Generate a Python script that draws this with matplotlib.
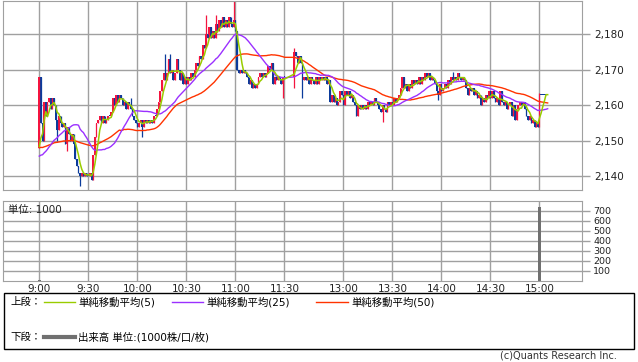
import matplotlib
matplotlib.use('Agg')
import matplotlib.pyplot as plt
from matplotlib.lines import Line2D
from matplotlib.patches import Rectangle
import numpy as np
import pandas as pd

plt.rcParams['font.family'] = ['DejaVu Sans', 'Noto Sans CJK JP']

# closes of the previous session, only so the averages start where the chart shows them
prev_closes = [2152, 2151, 2152, 2150, 2151, 2153, 2152, 2150, 2149, 2151,
               2150, 2152, 2151, 2150, 2149, 2150, 2151, 2150, 2149, 2150,
               2151, 2150, 2149, 2150, 2149,
               2148, 2147, 2148, 2146, 2147, 2145, 2146, 2144, 2145, 2146,
               2144, 2143, 2145, 2144, 2143, 2144, 2145, 2143, 2144, 2143,
               2143, 2144, 2143, 2144]

first_open = 2148

# 1-minute closes, 9:00 - 11:30
am_closes = [2168, 2155, 2150, 2161, 2157, 2161, 2162, 2159, 2162, 2160, 2156,
             2153, 2157, 2155, 2154, 2155, 2149, 2154, 2152, 2150, 2152,
             2149, 2145, 2143, 2141, 2140, 2141, 2140, 2141, 2140, 2140, 2141, 2139,
             2146, 2151, 2155, 2156, 2157, 2155, 2157, 2155, 2156, 2157,
             2157, 2158, 2162, 2160, 2163, 2161, 2163, 2162,
             2160, 2161, 2159, 2161, 2160,
             2159, 2157, 2156, 2155, 2154,
             2155, 2156, 2154, 2156, 2155, 2156, 2155, 2156, 2155, 2157,
             2157, 2159, 2161, 2164, 2167, 2169, 2167, 2169, 2173, 2169,
             2170, 2167, 2169, 2173, 2170, 2167, 2169, 2166, 2168, 2166,
             2168, 2167, 2169, 2168, 2170,
             2172, 2171, 2174, 2173, 2177, 2176, 2180, 2179, 2182, 2179,
             2181, 2179, 2183, 2181, 2184, 2182, 2185, 2182, 2184, 2182,
             2185, 2183, 2182, 2184, 2181,
             2170, 2169, 2170, 2169, 2170, 2169, 2168, 2166, 2167, 2165,
             2166, 2165, 2166, 2168, 2169, 2168, 2169, 2168, 2169, 2171,
             2170, 2172, 2166, 2168, 2167, 2168, 2167, 2166, 2168, 2168]

# 1-minute closes, 12:30 - 15:00 and the closing prints
pm_closes = [2175, 2174, 2172, 2174, 2172, 2167, 2168, 2167, 2168, 2166,
             2168, 2167, 2166, 2168, 2166, 2168, 2167, 2168, 2167, 2168,
             2166, 2167, 2161, 2163, 2161, 2162, 2160, 2161, 2164, 2163,
             2160, 2164, 2163, 2164, 2162, 2163, 2161, 2160, 2157, 2160,
             2159, 2160, 2159, 2160, 2159, 2161, 2160, 2161, 2160, 2162,
             2161, 2160, 2159, 2158, 2160, 2159, 2158, 2161, 2160, 2161,
             2160, 2162, 2161, 2162, 2163, 2165, 2168, 2165, 2166, 2164,
             2166, 2165, 2167, 2166, 2167, 2166, 2168, 2166, 2168, 2167,
             2169, 2168, 2169, 2167, 2168, 2167, 2166, 2164, 2163, 2166,
             2164, 2165, 2166, 2165, 2167, 2166, 2168, 2167, 2168, 2167,
             2169, 2168, 2167, 2168, 2167, 2165, 2163, 2165, 2164, 2165,
             2163, 2164, 2162, 2163, 2160, 2162, 2161, 2163, 2162, 2164,
             2162, 2164, 2162, 2161, 2162, 2160, 2164, 2161, 2160, 2161,
             2159, 2160, 2161, 2157, 2160, 2156, 2159, 2160, 2161, 2160,
             2161, 2159, 2157, 2156, 2157, 2155, 2156, 2154, 2155, 2154,
             2163, 2163, 2163, 2163, 2163, 2163]

# wicks that go past the bodies (bar number within the session: price)
am_wick_high = {56: 2162, 77: 2174.5, 80: 2174.5, 102: 2185.5, 108: 2185.5, 119: 2189.3}
am_wick_low = {11: 2150, 17: 2147, 25: 2137.3, 63: 2151, 149: 2162}
pm_wick_high = {0: 2176, 97: 2169.5, 150: 2163.4}
pm_wick_low = {0: 2165, 5: 2162, 54: 2155.4, 88: 2161.4}

pm_start = 156
tick_pos = [0, 30, 60, 90, 120, 150, 186, 216, 246, 276, 306]
tick_labels = ['9:00', '9:30', '10:00', '10:30', '11:00', '11:30',
               '13:00', '13:30', '14:00', '14:30', '15:00']
price_ticks = [2140, 2150, 2160, 2170, 2180]

vol_pos = [0, 306]
vol_vals = [6, 732]
vol_ticks = [100, 200, 300, 400, 500, 600, 700]

# colours
UP = '#f4143f'
DOWN = '#0b3b9b'
GRID = '#a0a0a0'

n_am = len(am_closes)
pos = np.r_[np.arange(n_am), pm_start + np.arange(len(pm_closes))]
close = np.array(am_closes + pm_closes, dtype=float)
opens = np.r_[first_open, close[:-1]]
high = np.maximum(opens, close)
low = np.minimum(opens, close)
for d, off, f in [(am_wick_high, 0, max), (pm_wick_high, n_am, max),
                  (am_wick_low, 0, min), (pm_wick_low, n_am, min)]:
    arr = high if f is max else low
    for k, v in d.items():
        arr[off + k] = f(arr[off + k], v)

allc = pd.Series(prev_closes + am_closes + pm_closes, dtype=float)
n0 = len(prev_closes)
sma5 = allc.rolling(5).mean().values[n0:]
sma25 = allc.rolling(25).mean().values[n0:]
sma50 = allc.rolling(50).mean().values[n0:]

W, H = 638, 362
fx = lambda px: px / W
fy = lambda py: 1 - py / H

fig = plt.figure(figsize=(W / 100, H / 100), dpi=100)
fig.patch.set_facecolor('white')

x0, x1 = 3.3, 582
ax = fig.add_axes([fx(x0), fy(190.3), fx(x1) - fx(x0), fy(0.7) - fy(190.3)])
axv = fig.add_axes([fx(x0), fy(280.5), fx(x1) - fx(x0), fy(200.5) - fy(280.5)])

xlim = (-22.0, 332.0)

# --- price panel
cols = np.where(close > opens, UP, DOWN)
body = np.maximum(np.abs(close - opens), 0.25)
ax.bar(pos, body, bottom=np.minimum(opens, close), width=1.0, color=cols,
       linewidth=0, zorder=2)
ax.vlines(pos, low, high, colors=cols, linewidth=0.9, zorder=2)

ax.plot(pos, sma50, color='#ff3300', lw=1, zorder=3)
ax.plot(pos, sma25, color='#9b30ff', lw=1, zorder=3)
ax.plot(pos, sma5, color='#99cc00', lw=1.1, zorder=4)

ax.set_xlim(*xlim)
ax.set_ylim(2136.06, 2189.46)
ax.set_xticks(tick_pos)
ax.set_xticklabels([])
ax.tick_params(axis='x', length=0)
ax.yaxis.tick_right()
ax.set_yticks(price_ticks)
ax.set_yticklabels([f'{v:,}' for v in price_ticks])
ax.tick_params(axis='y', length=6, width=1, color=GRID, labelsize=7.5,
               pad=3, labelcolor='#222222')
ax.grid(True, color=GRID, lw=1)
ax.set_axisbelow(True)
for s in ax.spines.values():
    s.set_color(GRID)

# --- volume panel
axv.bar(vol_pos, vol_vals, width=1.7, color='#707070', linewidth=0, zorder=2)
axv.set_xlim(*xlim)
axv.set_ylim(0, 800)
axv.set_xticks(tick_pos)
axv.set_xticklabels(tick_labels, family=['Liberation Sans Narrow', 'DejaVu Sans'])
axv.tick_params(axis='x', length=0, labelsize=7.5, pad=2.5, labelcolor='#222222')
axv.yaxis.tick_right()
axv.set_yticks(vol_ticks)
axv.tick_params(axis='y', length=6, width=1, color=GRID, labelsize=6.8,
                pad=2, labelcolor='#222222')
axv.grid(True, color=GRID, lw=1)
axv.set_axisbelow(True)
for s in axv.spines.values():
    s.set_color(GRID)
axv.text(0.008, 0.885, '単位: 1000', transform=axv.transAxes, fontsize=7.5,
         va='center', ha='left', color='#222222')

# --- legend box
fig.add_artist(Rectangle((fx(4), fy(349)), fx(634) - fx(4), fy(293) - fy(349),
                         transform=fig.transFigure, fill=False,
                         edgecolor='black', lw=1))

row1, row2 = 302, 337
fig.text(fx(10), fy(row1), '上段：', fontsize=7.5, va='center')
legend_items = [(44, 75, '#99cc00', '単純移動平均(5)'),
                (172, 203, '#9b30ff', '単純移動平均(25)'),
                (316, 348, '#ff3300', '単純移動平均(50)')]
for a, b, c, label in legend_items:
    fig.add_artist(Line2D([fx(a), fx(b)], [fy(row1), fy(row1)],
                          transform=fig.transFigure, color=c, lw=1))
    fig.text(fx(b + 3), fy(row1), label, fontsize=7.5, va='center')

fig.text(fx(10), fy(row2), '下段：', fontsize=7.5, va='center')
fig.add_artist(Line2D([fx(44), fx(75)], [fy(row2), fy(row2)],
                      transform=fig.transFigure, color='#707070', lw=3))
fig.text(fx(78), fy(row2), '出来高 単位:(1000株/口/枚)', fontsize=7.5, va='center')

fig.text(fx(617), fy(356), '(c)Quants Research Inc.', fontsize=7, va='center',
         ha='right', color='#333333',
         family=['Liberation Sans Narrow', 'DejaVu Sans'])

fig.savefig('out.png', dpi=100)
